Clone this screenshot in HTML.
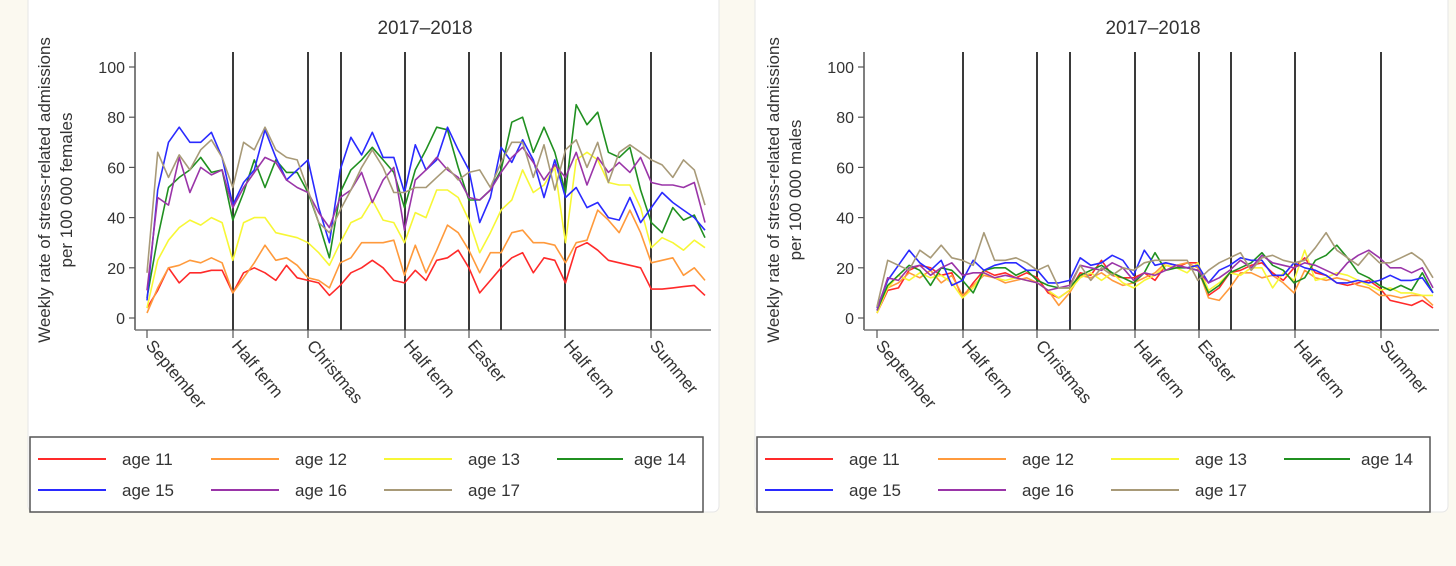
<!DOCTYPE html>
<html><head><meta charset="utf-8">
<style>
html,body{margin:0;padding:0;background:#fbf9f0;width:1456px;height:566px;overflow:hidden;font-family:"Liberation Sans",sans-serif;}
svg{position:absolute;left:0;top:0}
</style></head>
<body>
<svg id="chart" width="1456" height="566">
<rect x="28" y="-6" width="691" height="518" rx="6" fill="#fff" stroke="#e6e6e6"/>
<rect x="755" y="-6" width="693" height="518" rx="6" fill="#fff" stroke="#e6e6e6"/>
</svg>
<script>
const weekCount = 53;
const yTicks = [0,20,40,60,80,100];
const termLabels = ["September","Half term","Christmas","Half term","Easter","Half term","Summer"];
const ageNames = ["age 11","age 12","age 13","age 14","age 15","age 16","age 17"];
const colors = ["#ff2a2a","#ff9a3c","#f7f736","#209020","#2a2aff","#9a35a8","#a89a78"];

const femaleAge11 = [4,11,20,14,18,18,19,19,10,18,20,18,15,21,16,15,14,9,13,18,20,23,20,15,14,19,15,23,24,27,20,10,15,20,24,26,18,24,23,14,28,30,27,23,22,21,20,11.5,11.5,12,12.5,13,9];
const femaleAge12 = [2,12,20,21,23,22,24,22,10,16,22,29,23,24,21,16,15,12,22,24,30,30,30,31,17,29,18,27,37,34,27,18,26,26,34,35,30,30,29,22,30,31,43,39,34,43,34,22,23,24,17,20,15];
const femaleAge13 = [4,23,31,36,39,37,40,38,23,38,40,40,34,33,32,30,26,21,30,38,40,47,39,38,30,42,40,51,51,48,39,26,34,43,47,59,50,53,60,30,63,66,63,54,53,53,44,28,32,30,27,31,28];
const femaleAge14 = [8,32,52,56,59,64,58,59,39,50,63,52,63,58,58,50,38,24,50,59,63,68,63,58,44,59,67,76,75,60,47,47,51,59,78,80,66,76,66,50,85,77,82,66,64,68,51,38,34,44,39,41,32];
const femaleAge15 = [7,51,70,76,70,70,74,64,45,54,59,75,64,55,59,63,44,30,59,72,65,74,64,64,50,69,59,63,76,67,59,38,48,68,62,71,63,48,63,48,52,44,46,40,39,48,38,44,50,46,43,40,35];
const femaleAge16 = [11,48,45,64,50,60,57,59,44,52,58,64,62,55,52,50,42,36,48,51,58,46,55,60,35,55,59,64,59,56,48,47,51,58,64,68,62,55,61,56,66,53,64,58,62,58,64,54,53,53,52,54,38];
const femaleAge17 = [18,66,56,65,59,67,71,64,52,70,67,76,67,64,63,51,38,34,43,51,60,67,60,50,50,52,52,56,60,55,58,59,52,62,70,70,56,69,51,67,71,60,70,54,66,69,66,63,61,56,63,59,45];

const maleAge11 = [2,11,12,19,21,20,17,18,8,14,19,17,18,16,18,16,10,8,11,18,17,23,17,16,16,18,15,21,20,22,22,9,12,18,19,21,22,18,15,20,24,18,17,14,13,14,15,12,7,6,5,7,4];
const maleAge12 = [2,12,14,18,16,19,14,17,9,13,17,16,14,15,16,14,11,5,10,17,16,18,15,13,14,16,18,22,21,22,20,8,7,12,18,18,16,17,14,10,19,16,15,16,15,13,12,9,9,8,9,9,5];
const maleAge13 = [2,12,17,15,18,16,17,14,8,12,18,16,15,16,15,14,11,8,11,16,18,15,18,14,12,15,17,21,20,18,22,11,14,18,17,20,20,12,18,15,27,15,16,18,17,15,13,11,12,10,10,9,9];
const maleAge14 = [3,13,17,21,19,13,20,19,15,10,19,20,20,17,19,15,13,12,12,17,19,21,18,16,14,18,26,19,20,20,19,10,13,18,20,22,26,21,19,14,16,23,25,29,24,18,16,13,11,13,11,18,10];
const maleAge15 = [4,15,21,27,22,19,23,13,15,23,19,21,22,22,19,19,14,14,15,24,21,22,25,23,17,27,21,22,21,20,21,14,19,21,24,23,23,17,17,22,20,19,17,14,14,15,14,15,17,15,15,16,10];
const maleAge16 = [3,16,15,20,21,17,20,22,17,18,18,16,17,16,15,14,11,12,13,21,20,19,22,20,15,18,17,19,21,20,19,14,16,19,23,20,25,22,21,20,22,21,19,17,22,25,27,24,20,20,18,20,12];
const maleAge17 = [4.5,23,21,19,27,24,29,24,23,21,34,23,23,24,22,19,21,12,12,21,15,20,17,20,19,22,23,23,23,23,15,19,22,24,26,19,24,25,23,22,23,28,34,27,24,21,26,22,22,24,26,23,16];

const femaleSeries = [femaleAge11,femaleAge12,femaleAge13,femaleAge14,femaleAge15,femaleAge16,femaleAge17];
const maleSeries = [maleAge11,maleAge12,maleAge13,maleAge14,maleAge15,maleAge16,maleAge17];

const NS = "http://www.w3.org/2000/svg";
const svg = document.getElementById("chart");
function mk(tag, attrs, parent){
  const e = document.createElementNS(NS, tag);
  for (const k in attrs) e.setAttribute(k, attrs[k]);
  (parent||svg).appendChild(e);
  return e;
}

function drawPanel(cfg){
  const g = mk("g", {});
  
  
  const yScale = v => 318 - v * 2.51;
  const xScale = i => cfg.x0 + i * (cfg.x1 - cfg.x0) / (weekCount - 1);

  const t = mk("text", {x: cfg.titleX, y: 34, "font-size": 19, fill: "#333", "text-anchor": "middle"}, g);
  t.textContent = "2017\u20132018";
  
  

  const yt = mk("text", {transform: `translate(${cfg.axisX - 85},190) rotate(-90)`, "font-size": 17, fill: "#333", "text-anchor": "middle"}, g);
  yt.textContent = "Weekly rate of stress-related admissions";
  
  
  const yt2 = mk("text", {transform: `translate(${cfg.axisX - 63},190) rotate(-90)`, "font-size": 17, fill: "#333", "text-anchor": "middle"}, g);
  yt2.textContent = cfg.unit;
  
  

  mk("line", {x1: cfg.axisX, x2: cfg.axisX, y1: 52, y2: 330, stroke: "#555", "stroke-width": 1.5}, g);
  mk("line", {x1: cfg.axisX, x2: cfg.x1 + 6, y1: 330, y2: 330, stroke: "#777", "stroke-width": 1.5}, g);
  yTicks.forEach(v => {
    const y = yScale(v);
    mk("line", {x1: cfg.axisX - 6, x2: cfg.axisX, y1: y, y2: y, stroke: "#555", "stroke-width": 1.2}, g);
    const tx = mk("text", {x: cfg.axisX - 10, y: y + 6, "font-size": 16, fill: "#333", "text-anchor": "end"}, g);
    tx.textContent = v;
    
    
  });

  cfg.vlines.forEach(x => {
    const l = mk("line", {x1: x, x2: x, y1: 52, y2: 330, stroke: "#3a3a3a", "stroke-width": 2}, g);
    
    
  });

  termLabels.forEach((lab, i) => {
    const x = cfg.labelX[i];
    mk("line", {x1: x, x2: x, y1: 330, y2: 338, stroke: "#555", "stroke-width": 1.2}, g);
    const tx = mk("text", {transform: `translate(${x - 2},346) rotate(50)`, "font-size": 17, fill: "#333"}, g);
    tx.textContent = lab;
    
    
  });

  cfg.series.forEach((arr, s) => {
    const pts = arr.map((v, i) => xScale(i).toFixed(1) + "," + yScale(v).toFixed(1)).join(" ");
    const pl = mk("polyline", {points: pts, fill: "none", stroke: colors[s], "stroke-width": 1.6, "stroke-linejoin": "round"}, g);
    
    
  });

  const lg = mk("g", {}, g);
  
  
  mk("rect", {x: cfg.lx, y: 437, width: 673, height: 75, fill: "#fff", stroke: "#555", "stroke-width": 1.5}, lg);
  ageNames.forEach((n, i) => {
    const col = i % 4, row = Math.floor(i / 4);
    const bx = cfg.lx + 8 + col * 173, by = 459 + row * 31;
    const e = mk("g", {}, lg);
    
    
    const len = col === 3 ? 66 : 68;
    mk("line", {x1: bx, x2: bx + len, y1: by, y2: by, stroke: colors[i], "stroke-width": 2}, e);
    const tx = mk("text", {x: bx + (col === 3 ? 77 : 84), y: by + 6, "font-size": 17, fill: "#333"}, e);
    tx.textContent = n;
  });
}

drawPanel({name: "female-chart", titleX: 425, axisX: 135, x0: 147, x1: 705, unit: "per 100 000 females",
  vlines: [233,308,341,405,469,501,565,651], labelX: [147,233,308,405,469,565,651],
  series: femaleSeries, lx: 30});
drawPanel({name: "male-chart", titleX: 1153, axisX: 864, x0: 877, x1: 1433, unit: "per 100 000 males",
  vlines: [963,1037,1070,1135,1199,1231,1295,1381], labelX: [877,963,1037,1135,1199,1295,1381],
  series: maleSeries, lx: 757});
</script>
</body></html>
